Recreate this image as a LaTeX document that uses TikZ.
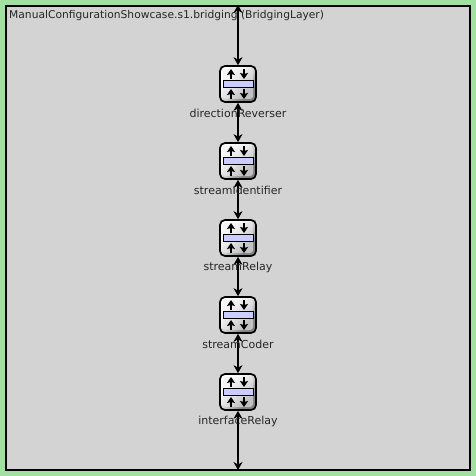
\documentclass[tikz,border=0pt]{standalone}
\usepackage{fontspec}
\setmainfont{DejaVu Sans}
\usetikzlibrary{arrows.meta}
\definecolor{bggray}{RGB}{211,211,211}
\definecolor{frameg}{RGB}{160,224,160}
\definecolor{barblue}{RGB}{204,204,255}
\pgfdeclareverticalshading{modshade}{100bp}{color(0bp)=(black!50); color(30bp)=(black!50); color(42bp)=(black!30); color(55bp)=(black!8); color(68bp)=(white); color(100bp)=(white)}
\pgfdeclareverticalshading{panelshade}{100bp}{color(0bp)=(black!24); color(30bp)=(black!24); color(50bp)=(black!12); color(70bp)=(black!4); color(100bp)=(black!4)}
\tikzset{
  modbox/.style={draw=black,line width=1.7pt,rounded corners=5pt,minimum width=36pt,minimum height=36pt,inner sep=0pt,shading=modshade,shading angle=45},
  panelbox/.style={rounded corners=3pt,minimum width=30pt,minimum height=30pt,inner sep=0pt,shading=panelshade,shading angle=45},
  modlabel/.style={font=\fontsize{11}{13}\selectfont,text=black!85,inner sep=0pt,anchor=center},
  titlelabel/.style={anchor=west,font=\fontsize{10.7}{13}\selectfont,text=black!85,inner sep=0pt},
  conn/.style={draw=black,line width=1.1pt,{Stealth[length=8pt,width=9pt,inset=2.5pt]}-{Stealth[length=8pt,width=9pt,inset=2.5pt]}},
  iconarrow/.style={draw=black,line width=1.9pt,-{Stealth[length=6pt,width=8pt,inset=1pt]}},
  barbox/.style={draw=black,line width=.9pt,fill=barblue,minimum width=30pt,minimum height=7pt,inner sep=0pt}
}
\begin{document}
\begin{tikzpicture}[x=1pt,y=-1pt]
\useasboundingbox (0,0) rectangle (476,476);
\fill[frameg] (0,0) rectangle (476,476);
\draw[black,line width=2pt,fill=bggray] (6,6) rectangle (470,470);
\node[titlelabel] (title) at (9,16) {ManualConfigurationShowcase.s1.bridging (BridgingLayer)};
\coordinate (top) at (238,5);
\coordinate (bottom) at (238,470);
\foreach \nm/\y in {dr/84,si/161,sr/238,sc/315,ir/392}{
  \node[modbox] (\nm) at (238,\y) {};
  \node[panelbox] (\nm panel) at (238,\y) {};
  \node[barbox] (\nm bar) at (238,\y) {};
  \foreach \s/\e in {-5/-15,15/5}{
    \draw[iconarrow] (231,\y+\s) -- (231,\y+\e);
  }
  \foreach \s/\e in {-15/-5,5/15}{
    \draw[iconarrow] (244,\y+\s) -- (244,\y+\e);
  }
}
\draw[conn] (top) -- (dr);
\draw[conn] (dr) -- (si);
\draw[conn] (si) -- (sr);
\draw[conn] (sr) -- (sc);
\draw[conn] (sc) -- (ir);
\draw[conn] (ir) -- (bottom);
\foreach \nm/\y/\lab in {dr/84/directionReverser,si/161/streamIdentifier,sr/238/streamRelay,sc/315/streamCoder,ir/392/interfaceRelay}{
  \node[modlabel] (\nm lab) at (238,\y+29.8) {\lab};
}
\end{tikzpicture}
\end{document}
